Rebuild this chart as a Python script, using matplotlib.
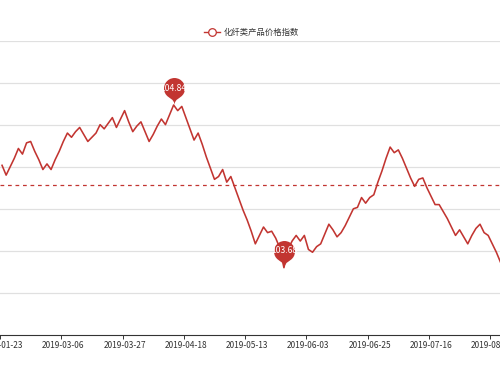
import matplotlib
matplotlib.use('Agg')
import matplotlib.pyplot as plt
from matplotlib.path import Path
from matplotlib.lines import Line2D
import numpy as np

plt.rcParams['font.family'] = ['Noto Sans CJK SC', 'DejaVu Sans']

series_name = '化纤类产品价格指数'

# index values, one per trading day
index_values = [
    104.41, 104.34, 104.40, 104.46, 104.53, 104.49, 104.57, 104.58, 104.51, 104.45,
    104.38, 104.42, 104.38, 104.45, 104.51, 104.58, 104.64, 104.61, 104.65, 104.68,
    104.63, 104.58, 104.61, 104.64, 104.70, 104.67, 104.71, 104.75, 104.68, 104.74,
    104.80, 104.72, 104.65, 104.69, 104.72, 104.65, 104.58, 104.63, 104.69, 104.74,
    104.70, 104.77, 104.84, 104.80, 104.83, 104.75, 104.67, 104.59, 104.64, 104.56,
    104.47, 104.39, 104.31, 104.33, 104.38, 104.29, 104.33, 104.25, 104.17, 104.09,
    104.02, 103.94, 103.85, 103.91, 103.97, 103.93, 103.94, 103.89, 103.82, 103.68,
    103.81, 103.87, 103.91, 103.87, 103.91, 103.81, 103.79, 103.83, 103.85, 103.92,
    103.99, 103.95, 103.90, 103.93, 103.98, 104.04, 104.10, 104.11, 104.18, 104.14,
    104.18, 104.20, 104.29, 104.37, 104.46, 104.54, 104.50, 104.52, 104.46, 104.39,
    104.32, 104.26, 104.31, 104.32, 104.25, 104.19, 104.13, 104.13, 104.08, 104.03,
    103.97, 103.91, 103.95, 103.90, 103.85, 103.91, 103.96, 103.99, 103.93, 103.91,
    103.85, 103.79, 103.72,
]

# dates shown on the axis (every 15th point)
tick_dates = ['2019-01-23', '2019-03-06', '2019-03-27', '2019-04-18', '2019-05-13',
              '2019-06-03', '2019-06-25', '2019-07-16', '2019-08-06']
tick_step = 15

avg_value = 104.27
y_min, y_max, y_step = 103.2, 105.3, 0.3

red = '#c23531'


def pin_path(r=10.5, h=32.5):
    # echarts-like pin, tip at (0, 0), y up
    u = h - r
    dy = r * r / u
    c = u - dy
    ang = np.arcsin(dy / r)
    dx = np.cos(ang) * r
    tx, ty = np.sin(ang), np.cos(ang)
    cp1, cp2 = r * 0.6, r * 0.7
    deg = np.degrees(ang)
    arc = Path.arc(-deg, 180 + deg)
    verts = list(arc.vertices * r + [0, c])
    codes = list(arc.codes)
    verts += [(-dx + tx * cp1, c - dy - ty * cp1), (0, cp2), (0, 0),
              (0, cp2), (dx - tx * cp1, c - dy - ty * cp1), (dx, c - dy),
              (dx, c - dy)]
    codes += [Path.CURVE4] * 6 + [Path.CLOSEPOLY]
    return Path(verts, codes), c + r, c


fig = plt.figure(figsize=(5, 3.75), dpi=100)
ax = fig.add_axes([0, 40 / 375, 1, 294.5 / 375])

x = np.arange(len(index_values))
ax.plot(x, index_values, color=red, lw=1.15, zorder=3)

ax.axhline(avg_value, color=red, lw=0.9, linestyle=(0, (3, 3)), zorder=2)

ax.set_xlim(0, 500 / 4.102)
ax.set_ylim(y_min, y_max)
ax.set_yticks(np.arange(y_min + y_step, y_max + 0.01, y_step))
ax.yaxis.grid(True, color='#e0e0e0', lw=0.9)
ax.tick_params(axis='y', length=0, labelleft=False)

tick_pos = np.arange(len(tick_dates)) * tick_step
ax.set_xticks(tick_pos)
ax.set_xticklabels(tick_dates, fontsize=6, color='#333333')
ax.set_xticks(tick_pos - 0.5, minor=True)
ax.tick_params(axis='x', which='major', length=0, pad=4.5)
ax.tick_params(axis='x', which='minor', length=3, width=0.7, color='#333333')

for s in ['top', 'right', 'left']:
    ax.spines[s].set_visible(False)
ax.spines['bottom'].set_color('#333333')
ax.spines['bottom'].set_linewidth(0.8)

# max / min pins
pin, top, center = pin_path()
ms = 2 * top * 0.72
for idx in [int(np.argmax(index_values)), int(np.argmin(index_values))]:
    v = index_values[idx]
    ax.plot([idx], [v], marker=pin, markersize=ms, color=red,
            markeredgewidth=0, zorder=5, clip_on=False)
    ax.annotate(f'{v:.2f}', xy=(idx, v), xytext=(0, center * 0.72),
                textcoords='offset points', ha='center', va='center',
                color='white', fontsize=6.2, zorder=6)

# legend
ly = 1 - 32 / 375
fig.add_artist(Line2D([204 / 500, 220 / 500], [ly, ly], color=red, lw=1.0))
fig.add_artist(Line2D([212 / 500], [ly], marker='o', markersize=5.5,
                      markerfacecolor='white', markeredgecolor=red,
                      markeredgewidth=0.9))
fig.text(224 / 500, ly, series_name, fontsize=6, color='#333333',
         ha='left', va='center')

fig.savefig('out.png', dpi=100)
